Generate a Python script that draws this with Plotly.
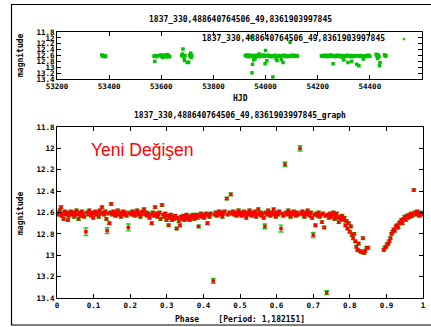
import plotly.graph_objects as go

# ---------------- top panel: light curve vs HJD ----------------
hjd = [53372, 53375, 53378, 53381, 53384, 53387,
       53572, 53575, 53578, 53582, 53590, 53598, 53602, 53605, 53608, 53612, 53615, 53618, 53620, 53623, 53626, 53629, 53632,
       53678, 53681, 53683, 53685, 53687, 53689, 53691, 53700, 53705, 53709, 53711, 53713, 53715, 53717,
       53922, 53926, 53930, 53934, 53938, 53942, 53944, 53946, 53948, 53950, 53952, 53955, 53958, 53960, 53964, 53968,
       53972, 53975, 53979, 53983, 53987, 53991, 53995, 53998, 54000, 54003, 54005, 54008, 54012, 54016, 54020, 54024,
       54028, 54032, 54036, 54040, 54044, 54048, 54052, 54056, 54060, 54064, 54067, 54070, 54074, 54078, 54082, 54086,
       54090, 54094, 54098, 54102, 54106, 54110, 54114, 54118, 54122,
       54214, 54218, 54222, 54226, 54230, 54234, 54238, 54242, 54246, 54250, 54254, 54259, 54262, 54266, 54270, 54274,
       54278, 54282, 54286, 54290, 54294, 54298, 54300, 54304, 54308, 54312, 54316, 54320, 54324, 54328, 54330, 54334,
       54338, 54342, 54346, 54350, 54354, 54358, 54362, 54366, 54370, 54375, 54380, 54384, 54388, 54392, 54396, 54400,
       54424, 54427, 54430, 54432, 54435, 54437, 54439, 54456, 54459, 54462]
hjd_mag = [12.58, 12.62, 12.60, 12.64, 12.61, 12.63,
           12.62, 12.80, 12.60, 12.64, 12.61, 12.58, 12.63, 12.66, 12.60, 12.62, 12.59, 12.65, 12.61, 12.57, 12.63, 12.60, 12.64,
           12.60, 12.55, 12.38, 12.62, 12.66, 12.77, 12.60, 12.84, 12.83, 12.58, 12.63, 12.52, 12.67, 12.60,
           12.60, 12.62, 12.58, 12.64, 12.61, 12.59, 11.97, 12.63, 13.19, 12.90, 12.60, 12.75, 12.62, 12.70, 12.59, 12.63,
           12.61, 12.55, 12.64, 12.60, 12.62, 12.58, 12.63, 12.88, 12.43, 12.61, 12.78, 12.59, 12.63, 12.60, 12.62, 12.64,
           13.33, 12.61, 12.59, 12.70, 12.77, 12.62, 12.60, 12.63, 12.74, 12.61, 12.84, 12.59, 12.62, 12.60, 12.64, 12.61,
           12.63, 12.15, 12.60, 12.62, 12.59, 12.61, 12.63, 12.60, 12.62,
           12.61, 12.63, 12.60, 12.62, 12.59, 12.64, 12.61, 12.60, 12.63, 12.58, 12.62, 12.88, 12.61, 12.64, 12.60, 12.62,
           12.59, 12.63, 12.61, 12.65, 12.60, 12.62, 12.75, 12.61, 12.63, 12.59, 12.84, 12.62, 12.60, 12.64, 12.80, 12.61,
           12.63, 12.60, 12.62, 12.90, 12.61, 12.95, 12.63, 12.60, 12.62, 12.72, 12.61, 12.64, 12.60, 12.62, 12.59, 12.63,
           12.56, 12.62, 12.70, 12.58, 12.64, 12.95, 12.84, 12.58, 12.62, 12.60]

# ---------------- bottom panel: phase-folded light curve ----------------
phase = [0.003, 0.006, 0.008, 0.011, 0.013, 0.016, 0.018, 0.021, 0.024, 0.027, 0.030, 0.032, 0.035, 0.038, 0.041, 0.044,
         0.047, 0.050, 0.053, 0.056, 0.059, 0.062, 0.065, 0.068, 0.071, 0.074, 0.082, 0.085, 0.088, 0.091, 0.094, 0.097, 0.099,
         0.102, 0.105, 0.108, 0.111, 0.114, 0.117, 0.120, 0.123, 0.126, 0.129, 0.132, 0.135, 0.140, 0.143, 0.146, 0.148,
         0.151, 0.154, 0.157, 0.160, 0.163, 0.166, 0.169, 0.172, 0.175, 0.178, 0.181, 0.184, 0.187, 0.190, 0.198,
         0.201, 0.204, 0.207, 0.210, 0.213, 0.216, 0.219, 0.222, 0.225, 0.228, 0.231, 0.234, 0.238, 0.241, 0.244, 0.247,
         0.250, 0.253, 0.256, 0.259, 0.262, 0.265, 0.268, 0.271, 0.274, 0.277, 0.280, 0.283, 0.287, 0.290, 0.293, 0.296, 0.299,
         0.302, 0.305, 0.308, 0.311, 0.314, 0.317, 0.320, 0.323, 0.327, 0.330, 0.333, 0.336, 0.339, 0.342, 0.345, 0.348,
         0.351, 0.354, 0.357, 0.360, 0.363, 0.366, 0.369, 0.372, 0.375, 0.378, 0.381, 0.384, 0.387, 0.390, 0.393, 0.396,
         0.399, 0.402, 0.405, 0.408, 0.411, 0.414, 0.417, 0.420,
         0.431, 0.434, 0.437, 0.440, 0.443, 0.446, 0.449, 0.452, 0.455, 0.458, 0.467, 0.471, 0.478, 0.481, 0.484, 0.487,
         0.490, 0.493, 0.496, 0.499, 0.502, 0.505, 0.508, 0.511, 0.514, 0.517, 0.520, 0.523, 0.526, 0.529, 0.532, 0.535,
         0.538, 0.541, 0.544, 0.547, 0.550, 0.553, 0.556, 0.559, 0.562, 0.565, 0.571, 0.574, 0.577, 0.580, 0.583, 0.586,
         0.589, 0.592, 0.595, 0.598, 0.601, 0.604, 0.607, 0.615, 0.618, 0.626, 0.629, 0.632, 0.635, 0.638, 0.641, 0.644,
         0.647, 0.650, 0.653, 0.656, 0.659,
         0.667, 0.670, 0.673, 0.676, 0.679, 0.682, 0.685, 0.688, 0.691, 0.694, 0.697, 0.703, 0.706, 0.709, 0.712, 0.715,
         0.718, 0.721, 0.724, 0.727, 0.730, 0.733, 0.740, 0.743, 0.746, 0.749, 0.752, 0.755, 0.758, 0.761, 0.764, 0.767, 0.770,
         0.773, 0.776, 0.779, 0.782, 0.785, 0.788, 0.791, 0.794, 0.797, 0.800, 0.803, 0.806, 0.809, 0.812, 0.815, 0.818,
         0.821, 0.824, 0.828, 0.832, 0.836, 0.839, 0.842, 0.846, 0.850,
         0.893, 0.896, 0.899, 0.902, 0.905, 0.908, 0.911, 0.914, 0.917, 0.920, 0.923, 0.926, 0.929, 0.932, 0.935, 0.938,
         0.941, 0.944, 0.947, 0.950, 0.953, 0.956, 0.959, 0.962, 0.965, 0.968, 0.971, 0.978, 0.981, 0.984, 0.987, 0.990,
         0.993, 0.996, 0.999]
mag = [12.62, 12.60, 12.58, 12.55, 12.63, 12.61, 12.66, 12.59, 12.62, 12.60, 12.67, 12.63, 12.61, 12.59, 12.62, 12.60,
       12.64, 12.61, 12.58, 12.62, 12.66, 12.60, 12.63, 12.59, 12.61, 12.64, 12.60, 12.62, 12.58, 12.61, 12.63, 12.60, 12.65,
       12.61, 12.59, 12.62, 12.60, 12.64, 12.58, 12.61, 12.55, 12.60, 12.62, 12.59, 12.66, 12.61, 12.70, 12.60, 12.52,
       12.62, 12.59, 12.61, 12.63, 12.60, 12.58, 12.62, 12.60, 12.64, 12.61, 12.59, 12.62, 12.60, 12.63, 12.61,
       12.60, 12.62, 12.59, 12.61, 12.63, 12.60, 12.58, 12.62, 12.60, 12.64, 12.61, 12.59, 12.57, 12.62, 12.60, 12.63,
       12.61, 12.65, 12.62, 12.70, 12.60, 12.63, 12.55, 12.61, 12.64, 12.62, 12.60, 12.66, 12.53, 12.62, 12.64, 12.61, 12.67,
       12.63, 12.72, 12.65, 12.62, 12.67, 12.64, 12.66, 12.63, 12.75, 12.65, 12.68, 12.72, 12.64, 12.66, 12.63, 12.67,
       12.65, 12.62, 12.66, 12.64, 12.67, 12.63, 12.65, 12.62, 12.66, 12.64, 12.62, 12.65, 12.73, 12.63, 12.61, 12.64,
       12.62, 12.65, 12.63, 12.61, 12.70, 12.62, 12.64, 12.61,
       12.62, 12.60, 12.63, 12.61, 12.59, 12.62, 12.60, 12.64, 12.61, 12.59, 12.62, 12.60, 12.61, 12.59, 12.62, 12.60,
       12.63, 12.61, 12.58, 12.62, 12.60, 12.63, 12.61, 12.59, 12.62, 12.65, 12.60, 12.62, 12.58, 12.61, 12.63, 12.60,
       12.62, 12.59, 12.64, 12.61, 12.57, 12.62, 12.60, 12.63, 12.61, 12.65, 12.60, 12.62, 12.58, 12.61, 12.63, 12.60,
       12.62, 12.57, 12.61, 12.64, 12.60, 12.62, 12.59, 12.61, 12.63, 12.60, 12.62, 12.58, 12.61, 12.64, 12.60, 12.62,
       12.59, 12.61, 12.63, 12.60, 12.62,
       12.61, 12.59, 12.62, 12.64, 12.60, 12.62, 12.58, 12.61, 12.63, 12.60, 12.65, 12.62, 12.72, 12.61, 12.63, 12.60,
       12.64, 12.62, 12.69, 12.61, 12.74, 12.63, 12.62, 12.65, 12.61, 12.64, 12.62, 12.60, 12.66, 12.63, 12.61, 12.65, 12.69,
       12.64, 12.66, 12.63, 12.67, 12.65, 12.72, 12.68, 12.75, 12.70, 12.78, 12.73, 12.81, 12.84, 12.80, 12.87, 12.92,
       12.95, 12.89, 12.96, 12.97, 12.84, 12.98, 12.96, 12.93, 12.93,
       12.95, 12.93, 12.92, 12.90, 12.89, 12.87, 12.84, 12.80, 12.78, 12.76, 12.77, 12.73, 12.72, 12.74, 12.70, 12.69,
       12.67, 12.70, 12.66, 12.64, 12.67, 12.63, 12.65, 12.62, 12.64, 12.61, 12.63, 12.60, 12.62, 12.59, 12.61, 12.63,
       12.60, 12.62, 12.61]
mag_err = 0.012

# isolated points with larger error bars
phase_out = [0.079, 0.137, 0.195, 0.427, 0.464, 0.475, 0.568, 0.612, 0.623, 0.664, 0.700, 0.737, 0.975]
mag_out = [12.78, 12.77, 12.74, 13.24, 12.47, 12.43, 12.73, 12.75, 12.15, 12.00, 12.81, 13.35, 12.39]
err_out = [0.035, 0.028, 0.032, 0.022, 0.012, 0.014, 0.022, 0.032, 0.020, 0.024, 0.024, 0.018, 0.012]

top_title = "1837_330,488640764506_49,8361903997845"
main_title = "1837_330,488640764506_49,8361903997845_graph"
period_label = "Phase    [Period: 1,182151]"
mag_ticks = [11.8, 12, 12.2, 12.4, 12.6, 12.8, 13, 13.2, 13.4]
hjd_ticks = [53200, 53400, 53600, 53800, 54000, 54200, 54400, 54600]
phase_ticks = [0, 0.1, 0.2, 0.3, 0.4, 0.5, 0.6, 0.7, 0.8, 0.9, 1]

W, H = 431, 327
MONO = "DejaVu Sans Mono"
tickfont = dict(family=MONO, size=7.5, color="black", weight="bold")
textfont = dict(family=MONO, size=8, color="black", weight="bold")

def px(x):
    return x / W

def py(y):
    return 1 - y / H

fig = go.Figure()

fig.add_trace(go.Scatter(
    x=hjd, y=hjd_mag, mode="markers", xaxis="x", yaxis="y",
    marker=dict(symbol="square", size=3.5, color="#00c000", line=dict(width=0)),
    error_y=dict(type="constant", value=mag_err, color="#2a8cff", thickness=1.2, width=0),
    showlegend=False, hoverinfo="skip"))

for xs, ys, err in [(phase, mag, dict(type="constant", value=mag_err)),
                    (phase_out, mag_out, dict(type="data", array=err_out))]:
    fig.add_trace(go.Scatter(
        x=xs, y=ys, mode="markers", xaxis="x2", yaxis="y2",
        marker=dict(symbol="square", size=3.5, color="#ff0000", line=dict(width=0)),
        error_y=dict(**err, color="#22cc22", thickness=1.4, width=2.5),
        showlegend=False, hoverinfo="skip"))

axis_common = dict(showline=True, linecolor="black", linewidth=1, mirror="ticks",
                   ticks="inside", ticklen=4, tickcolor="black", showgrid=False,
                   zeroline=False, tickfont=tickfont, automargin=False)

fig.update_layout(
    width=W, height=H, margin=dict(l=0, r=0, t=0, b=0),
    paper_bgcolor="white", plot_bgcolor="white",
    xaxis=dict(domain=[px(57), px(422)], anchor="y", range=[53200, 54600],
               tickvals=hjd_ticks, ticktext=[str(v) for v in hjd_ticks], **axis_common),
    yaxis=dict(domain=[py(79), py(32)], anchor="x", range=[13.4, 11.8],
               tickvals=mag_ticks, ticktext=[f"{v:g}" for v in mag_ticks], **axis_common),
    xaxis2=dict(domain=[px(57), px(423)], anchor="y2", range=[0, 1],
                tickvals=phase_ticks, ticktext=[f"{v:g}" for v in phase_ticks], **axis_common),
    yaxis2=dict(domain=[py(298), py(127)], anchor="x2", range=[13.4, 11.8],
                tickvals=mag_ticks, ticktext=[f"{v:g}" for v in mag_ticks], **axis_common),
)

ann = [
    dict(text=top_title, x=px(240), y=py(19)),
    dict(text=top_title, x=px(387), y=py(39), xanchor="right"),
    dict(text="HJD", x=px(240), y=py(98)),
    dict(text=main_title, x=px(240), y=py(115)),
    dict(text=period_label, x=px(240), y=py(319)),
    dict(text="magnitude", x=px(20), y=py(55), textangle=-90),
    dict(text="magnitude", x=px(20), y=py(213), textangle=-90),
]
for a in ann:
    a.setdefault("xanchor", "center")
    fig.add_annotation(xref="paper", yref="paper", yanchor="middle", showarrow=False,
                       font=textfont, **a)

# key sample of the top panel
fig.add_annotation(xref="paper", yref="paper", x=px(403), y=py(39), text="▪", showarrow=False,
                   font=dict(size=9, color="#00c000"), xanchor="center", yanchor="middle")

fig.add_annotation(xref="paper", yref="paper", x=px(89), y=py(150), text="Yeni Değişen",
                   showarrow=False, xanchor="left", yanchor="middle",
                   font=dict(family="Liberation Sans", size=17.5, color="#ff0000"))

# outer frame
fig.add_shape(type="rect", xref="paper", yref="paper", x0=px(11.5), x1=1.05, y0=py(325), y1=py(4.5),
              line=dict(color="black", width=1.2), fillcolor="rgba(0,0,0,0)")

fig.write_html("out.html", config={"displayModeBar": False},
               post_script="document.body.style.margin='0';document.body.style.overflow='hidden';")
